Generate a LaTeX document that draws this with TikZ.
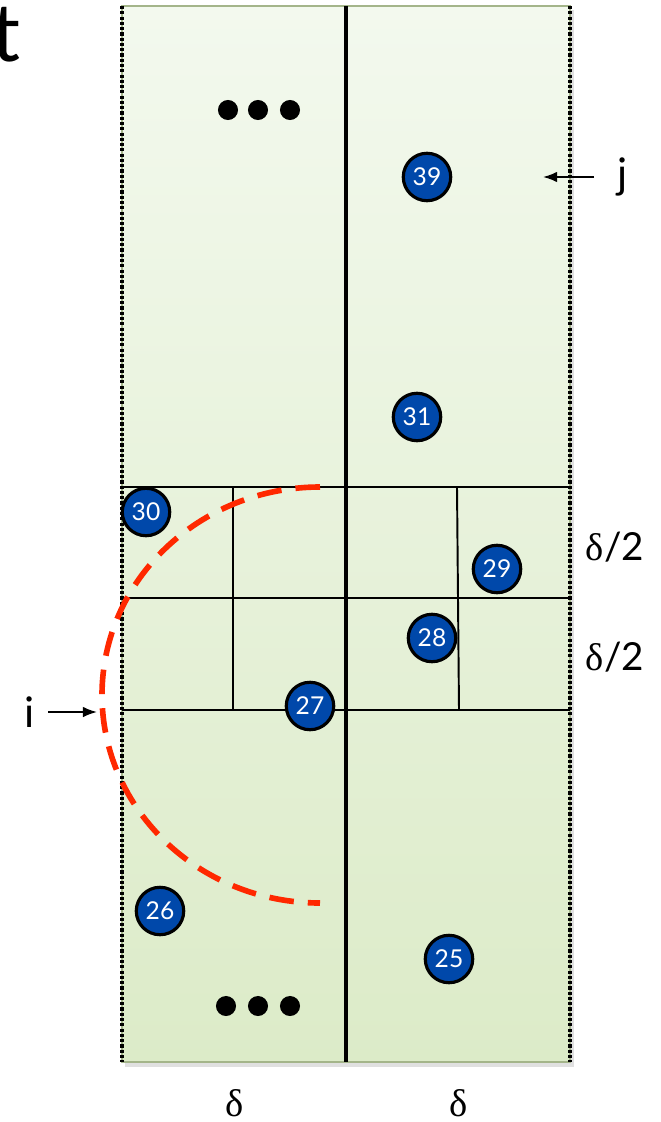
\documentclass[tikz,border=0pt]{standalone}
\usepackage{fontspec}
\setmainfont{Lato}
\newfontfamily\deltafont{Liberation Serif}
\usetikzlibrary{arrows.meta}

\definecolor{ptblue}{RGB}{0,72,170}
\definecolor{stripetop}{RGB}{243,249,238}
\definecolor{stripebot}{RGB}{220,235,200}
\definecolor{stripeedge}{RGB}{164,181,138}
\definecolor{circred}{RGB}{255,40,0}

\tikzset{
  pt/.style={circle,fill=ptblue,draw=black,line width=1.8pt,minimum size=27pt,
    inner sep=0pt,text=white,font=\fontsize{14}{14}\selectfont},
  gridline/.style={line width=1.1pt},
  lbl/.style={font=\fontsize{24}{24}\selectfont},
  dlbl/.style={font=\fontsize{22}{22}\selectfont,inner sep=0pt},
  pointer/.style={-{Latex[length=8pt,width=6pt]},line width=1pt},
  edgedots/.style={line width=2pt,dash pattern=on 1.8pt off 1.2pt},
}

\begin{document}
\begin{tikzpicture}[x=0.02cm,y=-0.02cm]
  \useasboundingbox (0,0) rectangle (660,1122);
  % clipped word at the top left
  \node[font=\fontsize{46}{46}\selectfont,inner sep=0pt,anchor=base west] (tfrag) at (-9,62) {t};
  % strip with shadow
  \fill[black,opacity=0.12] (125,10) rectangle (574,1067);
  \shade[top color=stripetop,bottom color=stripebot,draw=stripeedge,line width=1.2pt] (122,6) rectangle (570,1062);
  \draw[edgedots] (122,6) -- (122,1062);
  \draw[edgedots] (570,6) -- (570,1062);
  % boxes of side delta/2
  \foreach \yy in {487,598,710} \draw[gridline] (122,\yy) -- (570,\yy);
  \draw[gridline] (233,487) -- (233,710);
  \draw[gridline] (457,487) -- (459,710);
  % dividing line
  \draw[line width=2.8pt] (346,6) -- (346,1062);
  % half circle of radius delta
  \draw[circred,line width=3.2pt,dash pattern=on 14pt off 8pt] (320,487) arc[start angle=-90,end angle=-270,x radius=218,y radius=208];
  % dots
  \foreach \xx in {228,258,290} \fill (\xx,110) circle[radius=5.7pt];
  \foreach \xx in {226,258,290} \fill (\xx,1006) circle[radius=5.7pt];
  % points
  \node[pt] (n39) at (427,177) {39};
  \node[pt] (n31) at (417,417) {31};
  \node[pt] (n30) at (146,512) {30};
  \node[pt] (n29) at (497,569) {29};
  \node[pt] (n28) at (432,638) {28};
  \node[pt] (n27) at (310,706) {27};
  \node[pt] (n26) at (160,911) {26};
  \node[pt] (n25) at (449,959) {25};
  % labels
  \node[lbl] (lj) at (623,177) {j};
  \coordinate (jtip) at (543,177);
  \draw[pointer,shorten <=10pt] (lj.west) -- (jtip);
  \node[lbl] (li) at (30,712) {i};
  \coordinate (itip) at (97,712);
  \draw[pointer,shorten <=4pt] (li.east) -- (itip);
  \node[dlbl] (h1) at (615,547) {{\deltafont δ}/2};
  \node[dlbl] (h2) at (615,657) {{\deltafont δ}/2};
  \node[dlbl,font=\deltafont\fontsize{22}{22}\selectfont] (d1) at (235,1103) {δ};
  \node[dlbl,font=\deltafont\fontsize{22}{22}\selectfont] (d2) at (459,1103) {δ};
\end{tikzpicture}
\end{document}
